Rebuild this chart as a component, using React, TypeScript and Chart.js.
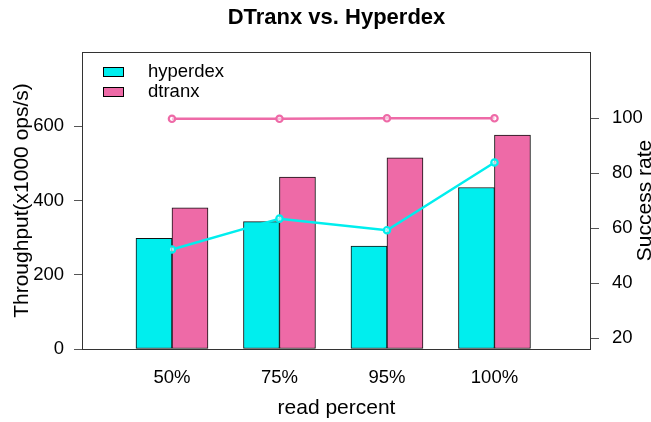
import React, { useEffect, useRef } from "react";
import { Chart, registerables } from "chart.js";

Chart.register(...registerables);

// ---- data ----
const categories = ["50%", "75%", "95%", "100%"];
const categoryPositions = [1, 2, 3, 4];
const hyperdexThroughput = [298, 343, 277, 435];
const dtranxThroughput = [380, 463, 515, 576];
const hyperdexSuccess = [52.2, 63.4, 59.2, 83.8];
const dtranxSuccess = [99.7, 99.7, 99.9, 99.9];
const leftTicks = [0, 200, 400, 600];
const rightTicks = [20, 40, 60, 80, 100];
const seriesNames = ["hyperdex", "dtranx"];

const CYAN = "#00EEEE";
const PINK = "#EE6AA7";
const FONT = "'Liberation Sans', Arial, Helvetica, sans-serif";
const W = 651;
const H = 422;

const decor = {
  id: "decor",
  afterDraw(chart: any) {
    const { ctx, chartArea: a } = chart;
    ctx.save();
    // box
    ctx.strokeStyle = "#333";
    ctx.lineWidth = 1;
    ctx.strokeRect(Math.round(a.left) + 0.5, Math.round(a.top) + 0.5, Math.round(a.right - a.left) - 1, Math.round(a.bottom - a.top));
    ctx.fillStyle = "#000";
    const cx = (a.left + a.right) / 2;
    const cy = (a.top + a.bottom) / 2;
    // title
    ctx.font = `bold 22px ${FONT}`;
    ctx.textAlign = "center";
    ctx.textBaseline = "alphabetic";
    ctx.fillText("DTranx vs. Hyperdex", cx, 24);
    // x title
    ctx.font = `21px ${FONT}`;
    ctx.fillText("read percent", cx, 414);
    // left title
    ctx.save();
    ctx.translate(28, cy);
    ctx.rotate(-Math.PI / 2);
    ctx.fillText("Throughput(x1000 ops/s)", 0, 0);
    ctx.restore();
    // right title
    ctx.save();
    ctx.translate(651, cy);
    ctx.rotate(-Math.PI / 2);
    ctx.fillText("Success rate", 0, 0);
    ctx.restore();
    // legend
    const colors = [CYAN, PINK];
    ctx.textAlign = "left";
    ctx.font = `18.5px ${FONT}`;
    seriesNames.forEach((name, i) => {
      const y = 67 + i * 20;
      ctx.fillStyle = colors[i];
      ctx.fillRect(103, y, 20, 9);
      ctx.strokeStyle = "#000";
      ctx.strokeRect(103.5, y + 0.5, 20, 9);
      ctx.fillStyle = "#000";
      ctx.fillText(name, 148, 77 + i * 20);
    });
    ctx.restore();
  },
};

export default function App() {
  const ref = useRef<HTMLCanvasElement>(null);

  useEffect(() => {
    if (!ref.current) return;
    const toXY = (vals: number[]) => vals.map((v, i) => ({ x: categoryPositions[i], y: v }));
    const tickFont = { family: FONT, size: 18.5 };
    const lineDs = (label: string, vals: number[], color: string) =>
      ({
        type: "line",
        label,
        data: toXY(vals),
        yAxisID: "y2",
        borderColor: color,
        backgroundColor: color,
        pointBorderColor: color,
        pointBackgroundColor: "rgba(255,255,255,0.6)",
        borderWidth: 2.5,
        pointRadius: 3.2,
        pointBorderWidth: 2.2,
        tension: 0,
        order: 0,
      }) as any;
    const barDs = (label: string, vals: number[], color: string) =>
      ({
        type: "bar",
        label,
        data: toXY(vals),
        yAxisID: "y",
        backgroundColor: color,
        borderColor: "#111",
        borderWidth: 1,
        borderSkipped: false,
        barThickness: 36,
        order: 1,
      }) as any;
    const chart = new Chart(ref.current, {
      type: "bar",
      data: {
        datasets: [
          lineDs("hyperdex success", hyperdexSuccess, CYAN),
          lineDs("dtranx success", dtranxSuccess, PINK),
          barDs(seriesNames[0], hyperdexThroughput, CYAN),
          barDs(seriesNames[1], dtranxThroughput, PINK),
        ],
      },
      options: {
        responsive: false,
        animation: false,
        layout: { padding: { top: 52, left: 0, right: 0, bottom: 0 } },
        plugins: {
          legend: { display: false },
          title: { display: false },
          tooltip: { enabled: false },
        },
        scales: {
          x: {
            type: "linear",
            min: 0.163,
            max: 4.898,
            offset: false,
            grid: { display: false, offset: false },
            border: { display: false },
            afterBuildTicks: (s: any) => {
              s.ticks = categoryPositions.map((v) => ({ value: v }));
            },
            afterFit: (s: any) => {
              s.height = 73;
            },
            ticks: {
              font: tickFont,
              color: "#000",
              padding: 10,
              maxRotation: 0,
              autoSkip: false,
              callback: (v: any) => categories[categoryPositions.indexOf(Number(v))] ?? "",
            },
          },
          y: {
            type: "linear",
            position: "left",
            min: 0,
            max: 800,
            grid: { display: true, drawOnChartArea: false, drawTicks: true, tickLength: 8, color: "#555" },
            border: { display: false },
            afterBuildTicks: (s: any) => {
              s.ticks = leftTicks.map((v) => ({ value: v }));
            },
            afterFit: (s: any) => {
              s.width = 82;
            },
            ticks: { font: tickFont, color: "#000", padding: 10 },
          },
          y2: {
            type: "linear",
            position: "right",
            min: 16,
            max: 124,
            grid: { display: true, drawOnChartArea: false, drawTicks: true, tickLength: 8, color: "#555" },
            border: { display: false },
            afterBuildTicks: (s: any) => {
              s.ticks = rightTicks.map((v) => ({ value: v }));
            },
            afterFit: (s: any) => {
              s.width = 60;
            },
            ticks: { font: tickFont, color: "#000", padding: 13 },
          },
        },
      },
      plugins: [decor],
    } as any);
    return () => chart.destroy();
  }, []);

  return (
    <div style={{ position: "fixed", left: 0, top: 0, width: W, height: H, background: "#fff" }}>
      <canvas ref={ref} width={W} height={H} style={{ display: "block" }} />
    </div>
  );
}
